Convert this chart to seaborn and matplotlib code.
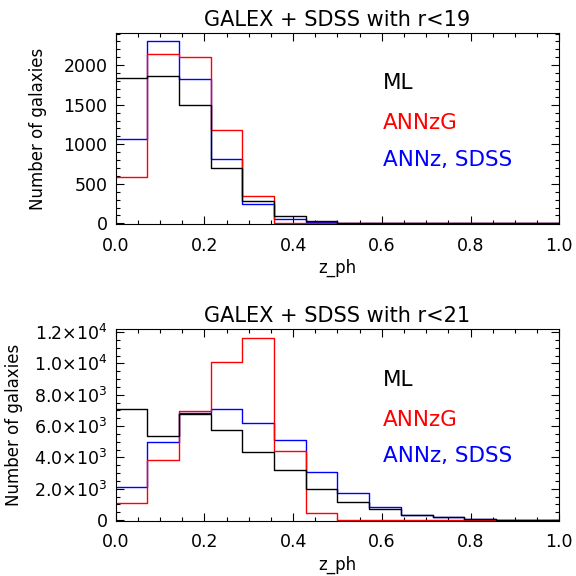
import numpy as np
import pandas as pd
import matplotlib
matplotlib.use("Agg")
import matplotlib.pyplot as plt
from matplotlib.ticker import MultipleLocator, FuncFormatter
import seaborn as sns

# photometric redshift bins (14 bins of width 1/14 from 0 to 1)
n_bins = 14
bin_width = 1.0 / n_bins
bin_centers = (np.arange(n_bins) + 0.5) * bin_width

methods = ["ML", "ANNzG", "ANNz, SDSS"]
colors = {"ML": "black", "ANNzG": "red", "ANNz, SDSS": "blue"}

# GALEX + SDSS, r<19
ml_19 = [1840, 1860, 1490, 700, 283, 97, 30, 8, 4, 2, 1, 1, 0, 0]
annzg_19 = [586, 2135, 2105, 1177, 342, 5, 2, 1, 0, 0, 0, 0, 0, 0]
annz_19 = [1072, 2304, 1819, 819, 249, 55, 12, 3, 1, 0, 0, 0, 0, 0]

# GALEX + SDSS, r<21
ml_21 = [7064, 5362, 6766, 5745, 4362, 3191, 1979, 1140, 682, 330, 170, 60, 20, 10]
annzg_21 = [1064, 3830, 6957, 10064, 11638, 4404, 480, 20, 10, 5, 2, 1, 0, 0]
annz_21 = [2128, 4957, 6850, 7064, 6213, 5085, 3086, 1703, 852, 345, 170, 50, 20, 10]

titles = ["GALEX + SDSS with r<19", "GALEX + SDSS with r<21"]


def make_frame(ml, annzg, annz):
    rows = []
    for name, vals in zip(methods, [ml, annzg, annz]):
        for z, n in zip(bin_centers, vals):
            rows.append({"z_ph": z, "count": n, "method": name})
    return pd.DataFrame(rows)


def sci_label(v, pos):
    if v == 0:
        return "0"
    exp = int(np.floor(np.log10(abs(v))))
    mant = v / 10 ** exp
    return r"$\mathregular{%.1f{\times}10^{%d}}$" % (mant, exp)


sns.set_style("ticks")
plt.rcParams["font.family"] = ["DejaVu Sans"]
plt.rcParams["xtick.direction"] = "in"
plt.rcParams["ytick.direction"] = "in"
for key in ["text.color", "axes.labelcolor", "xtick.color", "ytick.color", "axes.edgecolor"]:
    plt.rcParams[key] = "black"

fig = plt.figure(figsize=(5.76, 5.76), dpi=100)
ax1 = fig.add_axes([0.2009, 0.6106, 0.770, 0.3326])
ax2 = fig.add_axes([0.2009, 0.0960, 0.770, 0.3323])

frames = [make_frame(ml_19, annzg_19, annz_19), make_frame(ml_21, annzg_21, annz_21)]
ylims = [(-12, 2410), (-40, 12180)]
ymajor = [500, 2000]
yminor = [100, 500]
ylabel_x = [-0.155, -0.209]

for ax, df, title, yl, ymj, ymn, lx in zip([ax1, ax2], frames, titles, ylims,
                                           ymajor, yminor, ylabel_x):
    sns.histplot(data=df, x="z_ph", weights="count", hue="method",
                 hue_order=methods, palette=colors, binwidth=bin_width,
                 binrange=(0, 1), element="step", fill=False, linewidth=1.0,
                 legend=False, ax=ax)
    ax.set_xlim(0, 1)
    ax.set_ylim(*yl)
    ax.set_title(title, fontsize=15, pad=5)
    ax.set_xlabel("z_ph", fontsize=12, labelpad=3)
    ax.set_ylabel("Number of galaxies", fontsize=12)
    ax.yaxis.set_label_coords(lx, 0.5)
    ax.xaxis.set_major_locator(MultipleLocator(0.2))
    ax.xaxis.set_minor_locator(MultipleLocator(0.05))
    ax.yaxis.set_major_locator(MultipleLocator(ymj))
    ax.yaxis.set_minor_locator(MultipleLocator(ymn))
    ax.xaxis.set_major_formatter(FuncFormatter(lambda v, p: "%.1f" % v))
    ax.tick_params(which="both", top=True, right=True, labelsize=12.5, width=0.8)
    ax.tick_params(axis="x", which="major", pad=9)
    ax.tick_params(axis="y", which="major", pad=6)
    ax.tick_params(which="major", length=6)
    ax.tick_params(which="minor", length=3)
    for s in ax.spines.values():
        s.set_linewidth(0.8)
    for name, yy in zip(methods, [0.736, 0.527, 0.336]):
        ax.text(0.602, yy, name, color=colors[name], fontsize=15.5,
                transform=ax.transAxes, ha="left", va="center")

ax2.yaxis.set_major_formatter(FuncFormatter(sci_label))

fig.savefig("out.png", dpi=100)
